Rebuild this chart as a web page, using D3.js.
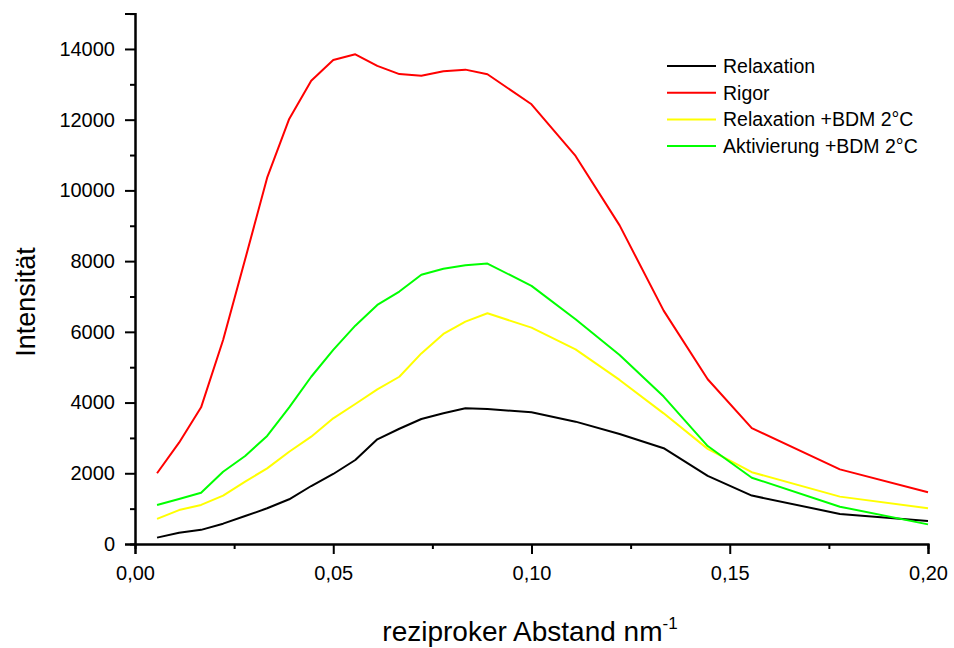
<!DOCTYPE html>
<html>
<head>
<meta charset="utf-8">
<script src="https://cdn.jsdelivr.net/npm/d3@7"></script>
<style>
  body { margin: 0; background: #fff; }
  svg { display: block; font-family: "Liberation Sans", Arial, sans-serif; }
</style>
</head>
<body>
<svg id="chart" width="954" height="648"></svg>
<script>
// x values: reciprocal distance (nm^-1)
const xValues = [0.00556, 0.01111, 0.01667, 0.02222, 0.02778, 0.03333, 0.03889, 0.04444,
  0.05, 0.05556, 0.06111, 0.06667, 0.07222, 0.07778, 0.08333, 0.08889,
  0.1, 0.11111, 0.12222, 0.13333, 0.14444, 0.15556, 0.17778, 0.2];

const relaxation = [180, 320, 400, 575, 790, 1010, 1265, 1640, 1980, 2375, 2960, 3260,
  3535, 3700, 3840, 3820, 3725, 3460, 3110, 2710, 1925, 1370, 850, 650];
const rigor = [2000, 2865, 3865, 5770, 8050, 10360, 12020, 13100, 13690, 13850, 13520, 13290,
  13245, 13370, 13415, 13285, 12435, 10975, 9010, 6600, 4660, 3275, 2110, 1465];
const relaxBDM = [710, 960, 1105, 1370, 1765, 2140, 2610, 3035, 3555, 3960, 4375, 4730,
  5390, 5940, 6290, 6525, 6120, 5505, 4640, 3695, 2690, 2030, 1340, 1010];
const aktivBDM = [1105, 1275, 1450, 2045, 2490, 3055, 3865, 4730, 5490, 6175, 6760, 7140,
  7615, 7785, 7880, 7930, 7300, 6355, 5345, 4170, 2770, 1875, 1055, 555];

const seriesNames = ["Relaxation", "Rigor", "Relaxation +BDM 2°C", "Aktivierung +BDM 2°C"];
const seriesColors = ["#000000", "#ff0000", "#ffff00", "#00ff00"];
const seriesData = [relaxation, rigor, relaxBDM, aktivBDM];

const xTicks = [0, 0.05, 0.10, 0.15, 0.20];
const xMinorTicks = [0.025, 0.075, 0.125, 0.175];
const yTicks = [0, 2000, 4000, 6000, 8000, 10000, 12000, 14000];
const yMinorTicks = [1000, 3000, 5000, 7000, 9000, 11000, 13000, 15000];

const svg = d3.select("#chart");
const x = d3.scaleLinear().domain([0, 0.20]).range([135, 928]);
const y = d3.scaleLinear().domain([0, 15000]).range([544, 13.6]);

// lines
const line = d3.line().x((d, i) => x(xValues[i])).y(d => y(d));
seriesData.forEach((s, k) => {
  svg.append("path")
    .datum(s)
    .attr("d", line)
    .attr("fill", "none")
    .attr("stroke", seriesColors[k])
    .attr("stroke-width", 2)
    .attr("stroke-linejoin", "round");
});

// axes
const fmt = d => d3.format(".2f")(d).replace(".", ",");
const xAxis = d3.axisBottom(x).tickValues(xTicks).tickFormat(fmt).tickSize(10).tickPadding(12);
const xMinor = d3.axisBottom(x).tickValues(xMinorTicks).tickFormat("").tickSize(5);
const yAxis = d3.axisLeft(y).tickValues(yTicks).tickFormat(d3.format("d")).tickSize(10).tickPadding(10);
const yMinor = d3.axisLeft(y).tickValues(yMinorTicks).tickFormat("").tickSize(5);

function styleAxis(g) {
  g.select(".domain").attr("stroke", "#000").attr("stroke-width", 2);
  g.selectAll(".tick line").attr("stroke", "#000").attr("stroke-width", 2);
  g.selectAll(".tick text").attr("fill", "#000").style("font-size", "20px")
    .style("font-family", "'Liberation Sans', Arial, sans-serif");
}

const gx = svg.append("g").attr("transform", "translate(0,544)").call(xAxis);
styleAxis(gx);
const gxm = svg.append("g").attr("transform", "translate(0,544)").call(xMinor);
styleAxis(gxm);
const gy = svg.append("g").attr("transform", "translate(135,0)").call(yAxis);
styleAxis(gy);
const gym = svg.append("g").attr("transform", "translate(135,0)").call(yMinor);
styleAxis(gym);

// axis titles
svg.append("text")
  .attr("transform", "translate(35,302) rotate(-90)")
  .attr("text-anchor", "middle")
  .style("font-size", "27px")
  .text("Intensität");

const xt = svg.append("text")
  .attr("x", 530).attr("y", 641)
  .attr("text-anchor", "middle")
  .style("font-size", "28px");
xt.append("tspan").text("reziproker Abstand nm");
xt.append("tspan").attr("dy", -12).style("font-size", "17px").text("-1");

// legend
const legend = svg.append("g");
seriesNames.forEach((name, k) => {
  const ly = 66 + k * 26.7;
  legend.append("line")
    .attr("x1", 667).attr("x2", 716)
    .attr("y1", ly).attr("y2", ly)
    .attr("stroke", seriesColors[k]).attr("stroke-width", 2);
  legend.append("text")
    .attr("x", 723).attr("y", ly + 7)
    .style("font-size", "19.5px")
    .text(name);
});
</script>
</body>
</html>
